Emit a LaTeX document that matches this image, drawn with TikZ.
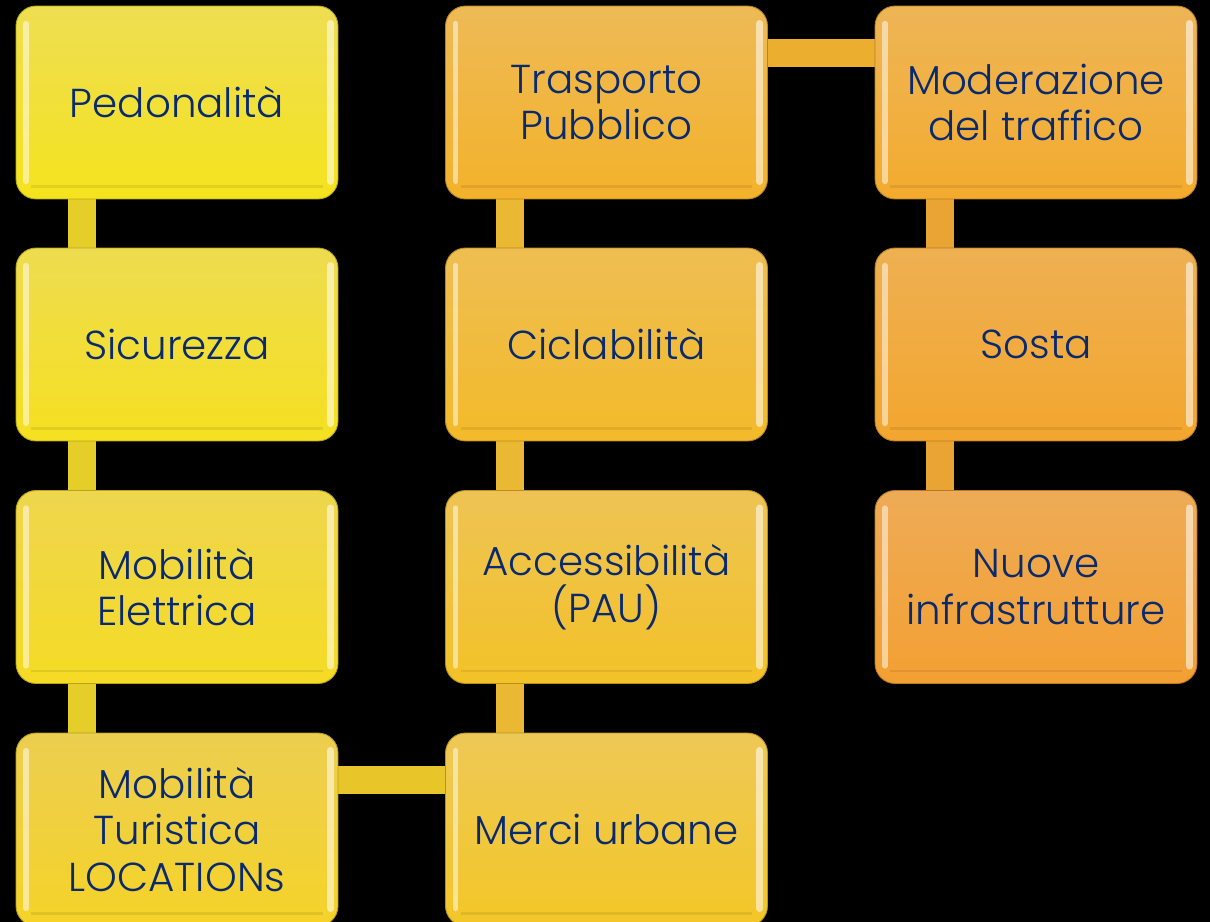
\documentclass[tikz,border=0pt]{standalone}
\usepackage{fontspec}
\setmainfont{Poppins}[UprightFont={* Light}]
\usetikzlibrary{backgrounds}

\definecolor{navytext}{RGB}{10,42,110}
% box colours, yellow to orange (top / bottom)
\definecolor{pedTop}{RGB}{238,222,82}   \definecolor{pedBot}{RGB}{245,227,30}
\definecolor{sicTop}{RGB}{238,220,80}   \definecolor{sicBot}{RGB}{245,224,32}
\definecolor{eleTop}{RGB}{238,214,78}   \definecolor{eleBot}{RGB}{245,219,36}
\definecolor{turTop}{RGB}{236,206,80}   \definecolor{turBot}{RGB}{245,211,40}
\definecolor{merTop}{RGB}{238,200,86}   \definecolor{merBot}{RGB}{243,199,40}
\definecolor{accTop}{RGB}{238,195,84}   \definecolor{accBot}{RGB}{243,194,40}
\definecolor{cicTop}{RGB}{238,190,82}   \definecolor{cicBot}{RGB}{243,186,42}
\definecolor{traTop}{RGB}{238,186,86}   \definecolor{traBot}{RGB}{243,178,42}
\definecolor{modTop}{RGB}{238,181,86}   \definecolor{modBot}{RGB}{243,171,46}
\definecolor{sosTop}{RGB}{238,176,82}   \definecolor{sosBot}{RGB}{243,166,46}
\definecolor{nuoTop}{RGB}{238,171,86}   \definecolor{nuoBot}{RGB}{243,160,50}
% connector colours
\definecolor{linkA}{RGB}{230,206,42}
\definecolor{linkB}{RGB}{232,198,42}
\definecolor{linkC}{RGB}{234,184,50}
\definecolor{linkD}{RGB}{235,174,46}
\definecolor{linkE}{RGB}{234,164,52}

\begin{document}
\begin{tikzpicture}[x=0.02cm,y=-0.02cm]
    \tikzset{
        tema/.style args={#1/#2}{rectangle, rounded corners=0.4cm,
            minimum width=6.44cm, minimum height=3.86cm,
            top color=#1, bottom color=#2, draw=#2!75!black, line width=0.5pt,
            text=navytext, align=center, inner sep=0pt,
            font=\fontsize{23}{26.5}\selectfont,
            path picture={
                \draw[white, opacity=0.5, line width=3pt, line cap=round]
                    ([shift={(0.2cm,0.35cm)}]path picture bounding box.south west)
                    -- ([shift={(0.2cm,-0.35cm)}]path picture bounding box.north west);
                \draw[white, opacity=0.55, line width=4pt, line cap=round]
                    ([shift={(-0.15cm,0.35cm)}]path picture bounding box.south east)
                    -- ([shift={(-0.15cm,-0.35cm)}]path picture bounding box.north east);
                \draw[black, opacity=0.08, line width=1.5pt]
                    ([shift={(0.3cm,0.25cm)}]path picture bounding box.south west)
                    -- ([shift={(-0.3cm,0.25cm)}]path picture bounding box.south east);
            }},
        link/.style={line width=16.4pt, draw=#1}
    }
    \useasboundingbox (0,0) rectangle (1210,922);

    % first column
    \node[tema=pedTop/pedBot] (pedon) at (177,102.5) {Pedonalità};
    \node[tema=sicTop/sicBot] (sicur) at (177,344.5) {Sicurezza};
    \node[tema=eleTop/eleBot] (elettr) at (177,587) {Mobilità\\Elettrica};
    \node[tema=turTop/turBot] (turist) at (177,829.5) {Mobilità\\Turistica\\LOCATIONs};
    % second column
    \node[tema=traTop/traBot] (trasp) at (606.5,102.5) {Trasporto\\Pubblico};
    \node[tema=cicTop/cicBot] (cicla) at (606.5,344.5) {Ciclabilità};
    \node[tema=accTop/accBot] (access) at (606.5,587) {Accessibilità\\(PAU)};
    \node[tema=merTop/merBot] (merci) at (606.5,829.5) {Merci urbane};
    % third column
    \node[tema=modTop/modBot] (moder) at (1036,102.5) {Moderazione\\del traffico};
    \node[tema=sosTop/sosBot] (sosta) at (1036,344.5) {Sosta};
    \node[tema=nuoTop/nuoBot] (nuove) at (1036,587) {Nuove\\infrastrutture};

    \begin{scope}[on background layer]
        \fill[black] (0,0) rectangle (1210,922);
        \draw[link=linkA] ([xshift=-1.9cm]pedon.south) -- ([xshift=-1.9cm]sicur.north);
        \draw[link=linkA] ([xshift=-1.9cm]sicur.south) -- ([xshift=-1.9cm]elettr.north);
        \draw[link=linkA] ([xshift=-1.9cm]elettr.south) -- ([xshift=-1.9cm]turist.north);
        \draw[link=linkB] ([yshift=0.99cm]turist.east) -- ([yshift=0.99cm]merci.west);
        \draw[link=linkC] ([xshift=-1.93cm]merci.north) -- ([xshift=-1.93cm]access.south);
        \draw[link=linkC] ([xshift=-1.93cm]access.north) -- ([xshift=-1.93cm]cicla.south);
        \draw[link=linkC] ([xshift=-1.93cm]cicla.north) -- ([xshift=-1.93cm]trasp.south);
        \draw[link=linkD] ([yshift=0.99cm]trasp.east) -- ([yshift=0.99cm]moder.west);
        \draw[link=linkE] ([xshift=-1.92cm]moder.south) -- ([xshift=-1.92cm]sosta.north);
        \draw[link=linkE] ([xshift=-1.92cm]sosta.south) -- ([xshift=-1.92cm]nuove.north);
    \end{scope}
\end{tikzpicture}
\end{document}
